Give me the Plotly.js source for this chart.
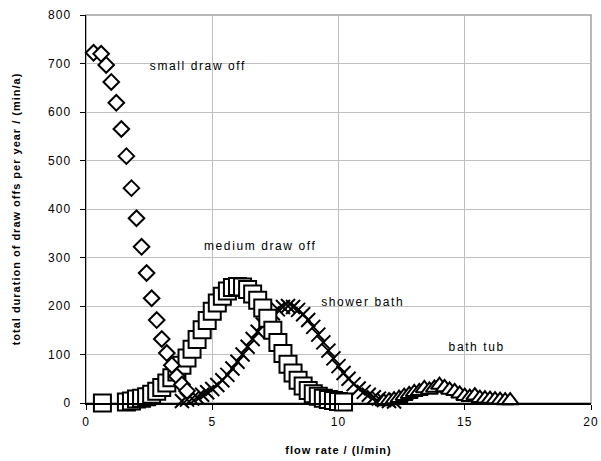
<!DOCTYPE html>
<html>
<head>
<meta charset="utf-8">
<script src="https://cdn.plot.ly/plotly-3.0.1.min.js"></script>
<style>
html,body{margin:0;padding:0;background:#fff;}
#chart text{letter-spacing:1px;}
#chart .annotation-text{letter-spacing:1.6px;}
</style>
</head>
<body>
<div id="chart" style="width:601px;height:461px;"></div>
<script>
// small draw off (diamonds)
var smallX = [0.3, 0.6, 0.8, 1.0, 1.2, 1.4, 1.6, 1.8, 2.0, 2.2, 2.4, 2.6, 2.8, 3.0, 3.2, 3.4, 3.6, 3.8, 4.0];
var smallY = [722, 720, 697, 662, 619, 565, 509, 443, 381, 322, 268, 216, 171, 132, 103, 78, 55, 38, 25];

// medium draw off (squares)
var mediumX = [0.65, 1.6, 1.8, 2.0, 2.2, 2.4, 2.6, 2.8, 3.0, 3.2, 3.4, 3.6, 3.8, 4.0, 4.2, 4.4, 4.6, 4.8, 5.0,
               5.2, 5.4, 5.6, 5.8, 6.0, 6.2, 6.4, 6.6, 6.8, 7.0, 7.2, 7.4, 7.6, 7.8, 8.0, 8.2, 8.4, 8.6,
               8.8, 9.0, 9.2, 9.4, 9.6, 9.8, 10.0, 10.2];
var mediumY = [0, 2, 4, 8, 10, 13, 18, 24, 32, 41, 52, 64, 78, 93, 111, 131, 151, 170, 189,
               206, 220, 231, 238, 240, 239, 234, 225, 212, 196, 175, 150, 125, 102, 80, 62, 47, 35,
               26, 19, 14, 10, 7, 5, 3, 2];

// shower bath (x markers)
var showerX = [3.8, 4.0, 4.2, 4.4, 4.6, 4.8, 5.0, 5.2, 5.4, 5.6, 5.8, 6.0, 6.2, 6.4, 6.6, 6.8, 7.0, 7.2,
               7.4, 7.6, 7.8, 8.0, 8.2, 8.4, 8.6, 8.8, 9.0, 9.2, 9.4, 9.6, 9.8, 10.0, 10.2, 10.4, 10.6,
               10.8, 11.0, 11.2, 11.4, 11.6, 11.8, 12.0, 12.2];
var showerY = [4, 7, 9, 12, 17, 22, 29, 37, 47, 58, 71, 85, 100, 116, 132, 147, 162, 174,
               185, 193, 198, 200, 198, 192, 183, 171, 157, 141, 125, 108, 92, 76, 62, 50, 39,
               30, 23, 17, 12, 9, 6, 4, 3];

// bath tub (triangles)
var bathX = [2.0, 11.8, 12.0, 12.2, 12.4, 12.6, 12.8, 13.0, 13.2, 13.4, 13.6, 13.8, 14.0, 14.2, 14.4,
             14.6, 14.8, 15.0, 15.2, 15.4, 15.6, 15.8, 16.0, 16.2, 16.4, 16.6, 16.8];
var bathY = [4, 3, 5, 7, 10, 14, 18, 22, 24, 30, 27, 31, 37, 32, 27,
             24, 19, 14, 12, 15, 10, 9, 8, 7, 6, 5, 5];

var labels = ["small draw off", "medium draw off", "shower bath", "bath tub"];
var labelX = [4.45, 6.9, 10.95, 15.5];
var labelY = [695, 324, 208, 115];

var yTitle = "total duration of draw offs per year / (min/a)";
var xTitle = "flow rate / (l/min)";

var FONT = "Arial, 'Liberation Sans', sans-serif";

function mk(x, y, sym, size, fill) {
  return {
    x: x, y: y, type: 'scatter', mode: 'markers', cliponaxis: false,
    marker: {symbol: sym, size: size, color: fill, line: {color: '#000', width: 2}},
    hoverinfo: 'skip'
  };
}

var data = [
  mk(showerX, showerY, 'x-thin-open', 14, '#000'),
  mk(bathX, bathY, 'triangle-up', 15, '#fff'),
  mk(mediumX, mediumY, 'square', 17, '#fff'),
  mk(smallX, smallY, 'diamond', 12, '#fff')
];

var annotations = labels.map(function (t, i) {
  return {x: labelX[i], y: labelY[i], xref: 'x', yref: 'y', text: t, showarrow: false,
          font: {family: FONT, size: 12, color: '#000'}};
});

var layout = {
  width: 601, height: 461,
  margin: {l: 86, r: 10, t: 15, b: 58},
  paper_bgcolor: '#fff', plot_bgcolor: '#fff',
  showlegend: false,
  font: {family: FONT, color: '#000'},
  xaxis: {
    range: [0, 20], dtick: 5, tick0: 0, automargin: false,
    showgrid: true, gridcolor: '#c0c0c0', gridwidth: 1, zeroline: false,
    showline: true, linecolor: '#000', linewidth: 1.5,
    ticks: 'outside', ticklen: 5, tickcolor: '#000', ticklabelstandoff: 2,
    tickfont: {family: FONT, size: 12, color: '#000'},
    title: {text: '<b>' + xTitle + '</b>', font: {family: FONT, size: 11, color: '#000'}, standoff: 18}
  },
  yaxis: {
    range: [0, 800], dtick: 100, tick0: 0, automargin: false,
    showgrid: true, gridcolor: '#c0c0c0', gridwidth: 1, zeroline: false,
    showline: true, linecolor: '#000', linewidth: 1.5,
    ticks: 'outside', ticklen: 5, tickcolor: '#000', ticklabelstandoff: 6,
    tickfont: {family: FONT, size: 12, color: '#000'},
    title: {text: '<b>' + yTitle + '</b>', font: {family: FONT, size: 11, color: '#000'}, standoff: 28}
  },
  shapes: [{type: 'rect', xref: 'paper', yref: 'paper', x0: 0, x1: 1, y0: 0, y1: 1,
            line: {color: '#a0a0a0', width: 1.5}, layer: 'below'}],
  annotations: annotations
};

Plotly.newPlot('chart', data, layout, {displayModeBar: false, staticPlot: true});
</script>
</body>
</html>
